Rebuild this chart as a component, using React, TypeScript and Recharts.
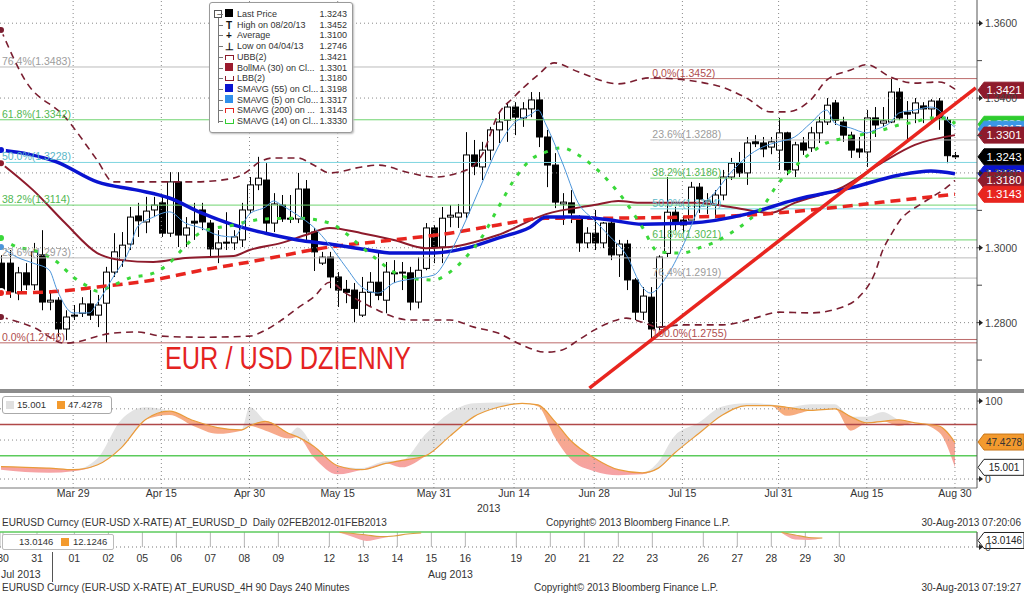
import React from "react";
import {
  ComposedChart,
  Bar,
  Line,
  Area,
  XAxis,
  YAxis,
  ReferenceLine,
  ReferenceDot,
  CartesianGrid,
} from "recharts";

const FONT = "'Liberation Sans', Arial, sans-serif";

// trading days: i = 0 is Mon 18-Mar-2013, i = 119 is Fri 30-Aug-2013
const X_DOMAIN: [number, number] = [-0.125, 121.75];
const tickIdx = [9, 20, 31, 42, 54, 64, 74, 85, 97, 108, 119];
const tickLabels = ["Mar 29", "Apr 15", "Apr 30", "May 15", "May 31", "Jun 14", "Jun 28", "Jul 15", "Jul 31", "Aug 15", "Aug 30"];

const opens = [
  1.2959, 1.2959, 1.2879, 1.2933, 1.2901, 1.2981, 1.2855, 1.286, 1.2783, 1.2818,
  1.2825, 1.285, 1.282, 1.2852, 1.2935, 1.2967, 1.301, 1.3085, 1.3069, 1.3101,
  1.312, 1.3039, 1.3176, 1.3034, 1.3071, 1.3101, 1.3066, 1.2997, 1.3015, 1.3013,
  1.3021, 1.3101, 1.3168, 1.3181, 1.3066, 1.3114, 1.3079, 1.3077, 1.3157, 1.3042,
  1.2959, 1.2975, 1.2922, 1.2889, 1.2887, 1.282, 1.2881, 1.2908, 1.286, 1.2932,
  1.2933, 1.2933, 1.2855, 1.2945, 1.3053, 1.3002, 1.3082, 1.3082, 1.3093, 1.3248,
  1.3216, 1.3261, 1.3315, 1.3341, 1.3376, 1.3347, 1.3371, 1.3395, 1.3296, 1.3221,
  1.3117, 1.312, 1.3077, 1.3013, 1.3039, 1.3013, 1.3066, 1.2981, 1.301, 1.2914,
  1.2828, 1.2868, 1.2788, 1.2985, 1.3095, 1.3074, 1.3074, 1.3162, 1.3117, 1.3114,
  1.3141, 1.3189, 1.3226, 1.32, 1.3283, 1.328, 1.3269, 1.3261, 1.3307, 1.3208,
  1.328, 1.3267, 1.3307, 1.3336, 1.3387, 1.3336, 1.3301, 1.3264, 1.3256, 1.3347,
  1.3333, 1.3336, 1.3416, 1.3362, 1.336, 1.3379, 1.3371, 1.3392, 1.3341, 1.3246,
];
const highs = [
  1.298, 1.2994, 1.2949, 1.2959, 1.3013, 1.3047, 1.2887, 1.2868, 1.2833, 1.2847,
  1.2868, 1.2887, 1.2874, 1.2949, 1.3039, 1.3042, 1.3109, 1.312, 1.3136, 1.3136,
  1.3136, 1.3202, 1.3202, 1.3082, 1.312, 1.312, 1.3074, 1.3047, 1.3095, 1.3047,
  1.312, 1.3189, 1.3243, 1.3226, 1.3146, 1.3141, 1.3141, 1.32, 1.3181, 1.3053,
  1.2989, 1.2989, 1.2935, 1.2914, 1.2906, 1.2922, 1.2935, 1.2994, 1.2962, 1.2967,
  1.2962, 1.2949, 1.2975, 1.3066, 1.3061, 1.3109, 1.3114, 1.3117, 1.3309, 1.3288,
  1.3283, 1.3323, 1.3363, 1.3389, 1.3389, 1.3389, 1.3416, 1.3416, 1.3315, 1.3253,
  1.3146, 1.3154, 1.3087, 1.3055, 1.3101, 1.3069, 1.3074, 1.3021, 1.3021, 1.2919,
  1.2895, 1.2895, 1.298, 1.3189, 1.3109, 1.3085, 1.3176, 1.3173, 1.3146, 1.3154,
  1.3208, 1.324, 1.3256, 1.3296, 1.3301, 1.3296, 1.3296, 1.3347, 1.331, 1.3283,
  1.3296, 1.3323, 1.335, 1.34, 1.3395, 1.335, 1.331, 1.3296, 1.3368, 1.3376,
  1.3376, 1.3452, 1.3427, 1.3392, 1.34, 1.3389, 1.3397, 1.34, 1.335, 1.3256,
];
const lows = [
  1.2874, 1.2866, 1.286, 1.2887, 1.2887, 1.2833, 1.2833, 1.2762, 1.2753, 1.2807,
  1.2815, 1.2807, 1.2788, 1.2746, 1.2922, 1.2949, 1.2994, 1.3029, 1.3039, 1.3082,
  1.3029, 1.3029, 1.3002, 1.3002, 1.3021, 1.3047, 1.2975, 1.2959, 1.2994, 1.2994,
  1.3002, 1.3093, 1.3154, 1.3042, 1.3042, 1.3069, 1.3066, 1.3066, 1.3021, 1.2938,
  1.2954, 1.2892, 1.2842, 1.2852, 1.2801, 1.2815, 1.2842, 1.286, 1.2825, 1.2906,
  1.2887, 1.2833, 1.2838, 1.294, 1.2959, 1.2959, 1.3055, 1.3053, 1.3079, 1.3194,
  1.3181, 1.3234, 1.328, 1.3283, 1.3301, 1.3323, 1.3349, 1.3269, 1.3162, 1.3106,
  1.3061, 1.3066, 1.2989, 1.2999, 1.2994, 1.2999, 1.2967, 1.2922, 1.2887, 1.2807,
  1.2807, 1.2755, 1.278, 1.2975, 1.3047, 1.304, 1.3074, 1.3093, 1.309, 1.3079,
  1.3127, 1.3181, 1.3189, 1.3168, 1.3269, 1.3242, 1.325, 1.3208, 1.3194, 1.3189,
  1.3248, 1.3256, 1.328, 1.3328, 1.3328, 1.3283, 1.324, 1.324, 1.3216, 1.3296,
  1.3323, 1.3333, 1.3341, 1.329, 1.3333, 1.3333, 1.3333, 1.3315, 1.3226, 1.3237,
];
const closes = [
  1.2887, 1.2882, 1.2933, 1.2901, 1.2989, 1.2855, 1.286, 1.2783, 1.2815, 1.282,
  1.285, 1.282, 1.2847, 1.2935, 1.2989, 1.3007, 1.3082, 1.3072, 1.3098, 1.3114,
  1.3039, 1.3176, 1.3034, 1.3053, 1.3066, 1.3069, 1.2997, 1.3013, 1.3013, 1.3029,
  1.3101, 1.3168, 1.3186, 1.3066, 1.3117, 1.3077, 1.3077, 1.3157, 1.3042, 1.2989,
  1.2975, 1.2922, 1.2887, 1.2881, 1.2838, 1.2881, 1.2908, 1.2873, 1.2935, 1.2933,
  1.2935, 1.2855, 1.294, 1.3053, 1.3002, 1.3079, 1.3087, 1.3093, 1.3248, 1.3218,
  1.3261, 1.3315, 1.3336, 1.3376, 1.3349, 1.3371, 1.3395, 1.3296, 1.3221, 1.3122,
  1.3122, 1.3093, 1.3013, 1.3039, 1.3013, 1.3066, 1.2981, 1.301, 1.2914, 1.2828,
  1.2871, 1.2783, 1.2975, 1.3095, 1.3066, 1.3061, 1.3162, 1.313, 1.3125, 1.3141,
  1.3189, 1.3226, 1.32, 1.328, 1.3278, 1.3264, 1.3283, 1.3307, 1.3208, 1.3275,
  1.3261, 1.3307, 1.3336, 1.3381, 1.3341, 1.3301, 1.3261, 1.3256, 1.3347, 1.3328,
  1.3339, 1.3416, 1.3347, 1.3357, 1.3387, 1.3371, 1.3392, 1.3347, 1.3246, 1.3243,
];

// overlay studies at the listed days
const sma5Idx = [0, 2, 4, 6, 7, 9, 11, 12, 14, 16, 17, 19, 21, 23, 25, 27, 29, 31, 33, 34, 35, 37, 39, 41, 43, 45, 47, 49, 51, 54, 56, 58, 60, 62, 64, 66, 67, 68, 70, 72, 74, 76, 78, 80, 81, 83, 85, 87, 89, 91, 93, 95, 97, 99, 101, 103, 104, 106, 108, 109, 111, 112, 114, 116, 117, 118, 119];
const sma5 = [1.3002, 1.2975, 1.2959, 1.2941, 1.2887, 1.2826, 1.2826, 1.2852, 1.2922, 1.2994, 1.3055, 1.3082, 1.3096, 1.3066, 1.3053, 1.3034, 1.3029, 1.309, 1.3109, 1.3125, 1.3114, 1.3087, 1.3055, 1.3007, 1.2949, 1.2895, 1.2879, 1.2906, 1.2916, 1.2927, 1.2986, 1.3074, 1.3173, 1.3269, 1.3333, 1.3355, 1.3368, 1.3328, 1.3229, 1.312, 1.3074, 1.3029, 1.2981, 1.2895, 1.2879, 1.2922, 1.3002, 1.3101, 1.3146, 1.32, 1.3242, 1.3269, 1.3283, 1.3296, 1.3333, 1.3368, 1.3333, 1.332, 1.3307, 1.3315, 1.3336, 1.336, 1.3368, 1.3376, 1.3368, 1.3341, 1.3322];

const sma14Idx = [0, 2, 4, 7, 9, 11, 12, 14, 16, 19, 21, 23, 25, 29, 31, 33, 37, 41, 43, 45, 47, 49, 51, 54, 56, 58, 60, 62, 64, 66, 68, 70, 72, 74, 76, 78, 80, 82, 85, 87, 89, 91, 93, 95, 97, 99, 101, 103, 106, 110, 112, 114, 116, 118, 119];
const sma14 = [1.3026, 1.3002, 1.2994, 1.2962, 1.2922, 1.2895, 1.2884, 1.29, 1.2919, 1.2932, 1.2959, 1.3005, 1.3042, 1.3061, 1.3071, 1.3077, 1.3079, 1.3066, 1.3039, 1.3002, 1.2967, 1.2935, 1.2919, 1.2914, 1.2935, 1.2975, 1.3029, 1.3106, 1.3181, 1.3234, 1.3256, 1.3267, 1.3248, 1.3216, 1.3173, 1.312, 1.3055, 1.2989, 1.2986, 1.2999, 1.3015, 1.3039, 1.3069, 1.3109, 1.3173, 1.3216, 1.3253, 1.328, 1.3296, 1.3315, 1.3328, 1.3336, 1.3347, 1.3347, 1.3331];

const sma55Idx = [0, 7, 12, 17, 21, 25, 29, 33, 37, 41, 45, 49, 54, 58, 62, 66, 68, 72, 76, 80, 86, 93, 99, 106, 112, 116, 119];
const sma55 = [1.3261, 1.3229, 1.3176, 1.3154, 1.3133, 1.3093, 1.3061, 1.3039, 1.3021, 1.301, 1.2997, 1.2986, 1.2986, 1.2999, 1.3026, 1.3055, 1.3082, 1.3082, 1.3074, 1.3063, 1.3066, 1.309, 1.3128, 1.316, 1.3194, 1.3205, 1.3198];

const sma200Idx = [0, 6, 12, 19, 25, 31, 41, 49, 56, 62, 68, 74, 85, 93, 101, 110, 119];
const sma200 = [1.2879, 1.2882, 1.2895, 1.2914, 1.294, 1.2962, 1.3002, 1.3021, 1.3039, 1.3061, 1.3079, 1.3079, 1.3082, 1.3087, 1.3101, 1.3122, 1.3143];

const bollIdx = [0, 4, 8, 12, 15, 19, 23, 29, 31, 35, 38, 41, 45, 49, 53, 56, 59, 62, 68, 74, 77, 80, 87, 91, 96, 99, 105, 110, 114, 119];
const bollMa = [1.3226, 1.3154, 1.3066, 1.2986, 1.2967, 1.2962, 1.2973, 1.2978, 1.2994, 1.3013, 1.3034, 1.3053, 1.3039, 1.3021, 1.2999, 1.3002, 1.3015, 1.3034, 1.309, 1.3114, 1.3125, 1.312, 1.312, 1.3109, 1.3093, 1.312, 1.3162, 1.3229, 1.3275, 1.3301];

const ubbIdx = [0, 3, 8, 12, 14, 20, 24, 29, 31, 32, 34, 37, 39, 41, 45, 47, 51, 54, 57, 59, 60, 62, 64, 67, 69, 72, 77, 81, 89, 93, 96, 98, 101, 103, 106, 108, 111, 114, 117, 119];
const ubb = [1.3582, 1.3448, 1.3349, 1.3234, 1.3176, 1.3176, 1.3176, 1.3186, 1.3208, 1.3226, 1.324, 1.324, 1.3221, 1.32, 1.3216, 1.3221, 1.32, 1.3189, 1.32, 1.3221, 1.3248, 1.3355, 1.3403, 1.3462, 1.3494, 1.347, 1.3438, 1.3454, 1.3435, 1.34, 1.3363, 1.3363, 1.3395, 1.3448, 1.3475, 1.3489, 1.3456, 1.344, 1.3443, 1.3424];

const lbbIdx = [0, 4, 8, 14, 17, 20, 25, 31, 33, 35, 37, 39, 41, 43, 45, 47, 51, 56, 59, 62, 65, 68, 70, 72, 74, 76, 78, 80, 82, 85, 90, 94, 97, 101, 105, 107, 109, 110, 111, 112, 115, 118, 119];
const lbb = [1.2815, 1.2788, 1.2745, 1.2772, 1.2775, 1.2764, 1.2761, 1.2764, 1.278, 1.2807, 1.2839, 1.2868, 1.2908, 1.2879, 1.2855, 1.2833, 1.2807, 1.2807, 1.2788, 1.2772, 1.274, 1.2721, 1.2727, 1.2753, 1.278, 1.2801, 1.2812, 1.2801, 1.2788, 1.2794, 1.2794, 1.2812, 1.2828, 1.2826, 1.2842, 1.2868, 1.2932, 1.2994, 1.3034, 1.3069, 1.312, 1.3162, 1.318];

// fibonacci retracements
const leftFibPct = ["76.4%", "61.8%", "50.0%", "38.2%", "23.6%", "0.0%"];
const leftFibVal = [1.3483, 1.3342, 1.3228, 1.3114, 1.2973, 1.2746];
const rightFibPct = ["0.0%", "23.6%", "38.2%", "50.0%", "61.8%", "76.4%", "100.0%"];
const rightFibVal = [1.3452, 1.3288, 1.3186, 1.3104, 1.3021, 1.2919, 1.2755];
const rightFibStart = 81;

// hand drawn trend line (day, price)
const trendIdx = [73.4, 121.6];
const trendPx = [1.2625, 1.3427];

const priceTicks = [1.27, 1.28, 1.29, 1.3, 1.31, 1.32, 1.33, 1.34, 1.35, 1.36];
const priceGrid = [1.28, 1.3, 1.32, 1.34, 1.36];

const legendNames = ["Last Price", "High on 08/20/13", "Average", "Low on 04/04/13", "UBB(2)", "BollMA (30) on Cl...", "LBB(2)", "SMAVG (55) on Cl...", "SMAVG (5) on Clo...", "SMAVG (200) on ...", "SMAVG (14) on Cl..."];
const legendValues = ["1.3243", "1.3452", "1.3100", "1.2746", "1.3421", "1.3301", "1.3180", "1.3198", "1.3317", "1.3143", "1.3330"];

// slow stochastic panel
const stochIdx = [0, 3, 6, 9, 12, 15, 18, 21, 24, 27, 30, 31, 33, 36, 37, 39, 42, 45, 48, 50, 53, 56, 59, 62, 65, 67, 69, 71, 74, 77, 80, 82, 84, 87, 90, 93, 96, 98, 101, 104, 106, 108, 110, 112, 114, 117, 119];
const stochD = [16, 15, 14, 12, 18, 40, 76, 87, 75, 66, 63, 68, 74, 58, 54, 42, 17, 12, 20, 24, 30, 55, 80, 92, 97, 95, 75, 50, 27, 12, 8, 14, 33, 58, 82, 94, 94, 92, 88, 90, 80, 72, 74, 76, 72, 68, 47];
const stochK = [12, 9, 8, 10, 26, 76, 92, 82, 68, 58, 62, 92, 62, 52, 66, 28, 6, 14, 23, 15, 58, 85, 97, 98, 97, 93, 55, 26, 10, 5, 6, 22, 55, 72, 93, 97, 96, 81, 96, 96, 62, 80, 86, 68, 72, 60, 15];

// 4H strip underneath (sessions, weekends count 1.5)
const stripDays = ["30", "31", "01", "02", "05", "06", "07", "08", "09", "12", "13", "14", "15", "16", "19", "20", "21", "22", "23", "26", "27", "28", "29", "30"];
const stripPos = [0, 1, 2.1, 3.1, 4.1, 5.1, 6.1, 7.1, 8.1, 9.6, 10.6, 11.6, 12.6, 13.6, 15.1, 16.1, 17.1, 18.1, 19.1, 20.6, 21.6, 22.6, 23.6, 24.6];
const stripSeriesPos = [9.9, 10.3, 10.7, 11.1, 11.5, 11.9, 12.3, 13.0, 22.9, 23.3, 23.7, 24.1];
const stripD = [29, 27, 24, 21, 22, 26, 28, null, 29, 24, 19, 18];
const stripK = [29, 20, 12, 17, 24, 27, 29, null, 29, 15, 14, 18];

const byIdx = (idx: number[], vals: number[]) => {
  const m = new Map<number, number>();
  idx.forEach((k, j) => m.set(k, vals[j]));
  return m;
};
const mS5 = byIdx(sma5Idx, sma5);
const mS14 = byIdx(sma14Idx, sma14);
const mS55 = byIdx(sma55Idx, sma55);
const mS200 = byIdx(sma200Idx, sma200);
const mBoll = byIdx(bollIdx, bollMa);
const mUbb = byIdx(ubbIdx, ubb);
const mLbb = byIdx(lbbIdx, lbb);

const priceData = closes.map((c, i) => ({
  i,
  o: opens[i],
  h: highs[i],
  l: lows[i],
  c,
  range: [lows[i], highs[i]],
  s5: mS5.get(i) ?? null,
  s14: mS14.get(i) ?? null,
  s55: mS55.get(i) ?? null,
  s200: mS200.get(i) ?? null,
  boll: mBoll.get(i) ?? null,
  ubb: mUbb.get(i) ?? null,
  lbb: mLbb.get(i) ?? null,
}));

const stochData = stochIdx.map((i, j) => {
  const k = stochK[j];
  const d = stochD[j];
  return { i, k, d, up: [d, Math.max(k, d)], dn: [Math.min(k, d), d] };
});

const stripData = stripSeriesPos.map((p, j) => {
  const k = stripK[j];
  const d = stripD[j];
  if (k == null || d == null) return { p, d: null, dn: null };
  return { p, d, dn: [Math.min(k, d), d] };
});

const fibColors = (pct: string) => {
  if (pct === "0.0%" || pct === "100.0%") return { line: "#BC6A6A", text: "#B04E4E" };
  if (pct === "50.0%") return { line: "#7ED5E0", text: "#5BB7C8" };
  if (pct === "38.2%" || pct === "61.8%") return { line: "#6FD46F", text: "#52B852" };
  return { line: "#BBBBBB", text: "#9C9C9C" };
};

const Candle = (props: any) => {
  const { x, y, width, height, payload } = props;
  if (!payload || height == null || isNaN(y)) return null;
  const { o, c, h, l } = payload;
  const cx = Math.round(x + width / 2) + 0.5;
  const py = (v: number) => y + ((h - v) / (h - l || 1)) * height;
  const top = py(Math.max(o, c));
  const bot = py(Math.min(o, c));
  const up = c >= o;
  return (
    <g>
      <line x1={cx} x2={cx} y1={y} y2={y + height} stroke="#000" strokeWidth={1} />
      <rect
        x={cx - 3}
        y={top}
        width={6}
        height={Math.max(1, bot - top)}
        fill={up ? "#fff" : "#000"}
        stroke="#000"
        strokeWidth={1}
      />
    </g>
  );
};

const AxisTick = (digits: number) => (props: any) => {
  const { x, y, payload } = props;
  const v = payload.value;
  const major = digits === 4 ? Math.round(v * 100) % 2 === 0 : true;
  if (!major) return <line x1={x} x2={x + 5} y1={y} y2={y} stroke="#444" />;
  return (
    <g>
      <line x1={x} x2={x + 3} y1={y} y2={y} stroke="#444" />
      <polygon points={`${x + 2},${y - 3} ${x + 6},${y} ${x + 2},${y + 3}`} fill="#222" />
      <text x={x + 8} y={y + 4} fontSize={10.5} fill="#444">
        {digits ? v.toFixed(digits) : String(v)}
      </text>
    </g>
  );
};

const badge = (bg: string, fg: string, text: string, border?: string, size = 11.5) => (p: any) => {
  const { cx, cy } = p;
  const x = cx + 1;
  return (
    <g>
      <polygon
        points={`${x},${cy} ${x + 6},${cy - 8} ${x + 46},${cy - 8} ${x + 46},${cy + 8} ${x + 6},${cy + 8}`}
        fill={bg}
        stroke={border ?? bg}
      />
      <text x={x + 26} y={cy + 4} textAnchor="middle" fill={fg} fontSize={size}>
        {text}
      </text>
    </g>
  );
};

const LegendIcon = ({ j }: { j: number }) => {
  const sq = (c: string) => <span style={{ display: "inline-block", width: 8, height: 8, background: c }} />;
  const br = (c: string, top: boolean) => (
    <span
      style={{
        display: "inline-block",
        width: 7,
        height: 4,
        border: `1px solid ${c}`,
        borderBottom: top ? "none" : `1px solid ${c}`,
        borderTop: top ? `1px solid ${c}` : "none",
        marginTop: top ? 2 : 0,
      }}
    />
  );
  const glyph = (g: string) => <span style={{ fontSize: 10, fontWeight: 700, color: "#111" }}>{g}</span>;
  const list = [
    sq("#000"), glyph("T"), glyph("+"), glyph("⊥"), br("#8B1A2B", true), sq("#9B1B2E"),
    br("#8B1A2B", false), sq("#0A14D0"), sq("#2F8FEA"), br("#E8251F", true), br("#33CC33", false),
  ];
  return list[j];
};

export default function App() {
  const priceBadges = [
    { v: 1.333, bg: "#2ECC2E", fg: "#fff", t: "1.3330" },
    { v: 1.3317, bg: "#3C96E8", fg: "#fff", t: "1.3317" },
    { v: 1.3301, bg: "#8E1B2C", fg: "#fff", t: "1.3301" },
    { v: 1.3421, bg: "#8E1B2C", fg: "#fff", t: "1.3421" },
    { v: 1.3198, bg: "#0A14D0", fg: "#fff", t: "1.3198" },
    { v: 1.318, bg: "#8E1B2C", fg: "#fff", t: "1.3180" },
    { v: 1.3143, bg: "#E8251F", fg: "#fff", t: "1.3143" },
    { v: 1.3243, bg: "#000", fg: "#fff", t: "1.3243" },
  ];

  return (
    <div
      style={{
        position: "absolute",
        left: 0,
        top: 0,
        width: 1024,
        height: 595,
        background: "#fff",
        overflow: "hidden",
        fontFamily: FONT,
        color: "#333",
      }}
    >
      {/* price panel */}
      <div style={{ position: "absolute", left: 0, top: 0 }}>
        <ComposedChart width={1024} height={390} data={priceData} margin={{ top: 0, right: 0, bottom: 0, left: 0 }}>
          <XAxis type="number" dataKey="i" domain={X_DOMAIN} hide allowDataOverflow />
          <YAxis
            orientation="right"
            width={47}
            domain={[1.262, 1.3662]}
            ticks={priceTicks}
            interval={0}
            allowDataOverflow
            axisLine={{ stroke: "#555" }}
            tickLine={false}
            tickSize={0}
            tickMargin={0}
            tick={AxisTick(4)}
          />
          {priceGrid.map((v) => (
            <ReferenceLine key={"h" + v} y={v} stroke="#8a8a8a" strokeDasharray="1 3" />
          ))}
          {tickIdx.map((i) => (
            <ReferenceLine key={"v" + i} x={i} stroke="#8a8a8a" strokeDasharray="1 3" />
          ))}
          {leftFibVal.map((v, j) => (
            <ReferenceLine
              key={"lf" + j}
              y={v}
              stroke={fibColors(leftFibPct[j]).line}
              label={{
                value: `${leftFibPct[j]}(${v.toFixed(4)})`,
                position: "insideBottomLeft",
                offset: 2,
                fill: fibColors(leftFibPct[j]).text,
                fontSize: 10.5,
              }}
            />
          ))}
          {rightFibVal.map((v, j) => (
            <ReferenceLine
              key={"rf" + j}
              segment={[
                { x: rightFibStart, y: v },
                { x: X_DOMAIN[1], y: v },
              ]}
              stroke={fibColors(rightFibPct[j]).line}
              label={{
                value: `${rightFibPct[j]}(${v.toFixed(4)})`,
                position: "insideBottomLeft",
                offset: 2,
                fill: fibColors(rightFibPct[j]).text,
                fontSize: 10.5,
              }}
            />
          ))}
          <Line dataKey="ubb" type="monotone" connectNulls dot={false} stroke="#7A1E30" strokeWidth={1.6} strokeDasharray="7 5" isAnimationActive={false} />
          <Line dataKey="lbb" type="monotone" connectNulls dot={false} stroke="#7A1E30" strokeWidth={1.6} strokeDasharray="7 5" isAnimationActive={false} />
          <Bar dataKey="range" barSize={7} shape={(p: any) => <Candle {...p} />} isAnimationActive={false} />
          <Line dataKey="boll" type="monotone" connectNulls dot={false} stroke="#8E1B2C" strokeWidth={2} isAnimationActive={false} />
          <Line dataKey="s200" type="monotone" connectNulls dot={false} stroke="#E8251F" strokeWidth={3.5} strokeDasharray="10 6" isAnimationActive={false} />
          <Line dataKey="s55" type="monotone" connectNulls dot={false} stroke="#0A14D0" strokeWidth={3.5} isAnimationActive={false} />
          <Line dataKey="s14" type="monotone" connectNulls dot={false} stroke="#3AD83A" strokeWidth={3} strokeDasharray="4 8" isAnimationActive={false} />
          <Line dataKey="s5" type="monotone" connectNulls dot={false} stroke="#4C95DA" strokeWidth={1} isAnimationActive={false} />
          <ReferenceLine
            segment={[
              { x: trendIdx[0], y: trendPx[0] },
              { x: trendIdx[1], y: trendPx[1] },
            ]}
            stroke="#E8251F"
            strokeWidth={3.5}
          />
          {priceBadges.map((b) => (
            <ReferenceDot key={b.t} x={X_DOMAIN[1]} y={b.v} ifOverflow="visible" shape={badge(b.bg, b.fg, b.t)} />
          ))}
        </ComposedChart>
      </div>

      {/* legend */}
      <div
        style={{
          position: "absolute",
          left: 209,
          top: 2,
          width: 142,
          height: 129,
          border: "1px solid #9a9a9a",
          borderRadius: 3,
          background: "#fff",
          boxShadow: "1px 1px 2px #bbb",
          fontSize: 9,
        }}
      >
        <div style={{ position: "absolute", left: 4, top: 7, width: 6, height: 6, border: "1px solid #555", fontSize: 8, lineHeight: "6px", textAlign: "center" }}>-</div>
        <div style={{ position: "absolute", left: 8, top: 15, width: 1, height: 105, background: "#777" }} />
        {legendNames.map((n, j) => (
          <div key={n} style={{ position: "absolute", left: 0, top: 6 + j * 10.7, width: 142, height: 11, lineHeight: "11px" }}>
            <div style={{ position: "absolute", left: 8, top: 5, width: 5, height: 1, background: "#777" }} />
            <div style={{ position: "absolute", left: 14, top: 0, width: 10, textAlign: "center" }}>
              <LegendIcon j={j} />
            </div>
            <span style={{ position: "absolute", left: 27, color: "#333" }}>{n}</span>
            <span style={{ position: "absolute", right: 5, color: "#333" }}>{legendValues[j]}</span>
          </div>
        ))}
      </div>

      <div
        style={{
          position: "absolute",
          left: 165,
          top: 342,
          fontSize: 32,
          lineHeight: 1,
          color: "#E4231F",
          transform: "scaleX(0.79)",
          transformOrigin: "left top",
          whiteSpace: "nowrap",
        }}
      >
        EUR / USD DZIENNY
      </div>

      {/* panel separator */}
      <div style={{ position: "absolute", left: 0, top: 389, width: 1024, height: 4, background: "#8c8c8c" }} />

      {/* stochastic panel */}
      <div style={{ position: "absolute", left: 0, top: 393 }}>
        <ComposedChart width={1024} height={111} data={stochData} margin={{ top: 0, right: 0, bottom: 0, left: 0 }}>
          <defs>
            <linearGradient id="dnFill" x1="0" y1="0" x2="0" y2="1">
              <stop offset="0" stopColor="#F7AE78" />
              <stop offset="1" stopColor="#F6A2A6" />
            </linearGradient>
          </defs>
          <XAxis
            type="number"
            dataKey="i"
            domain={X_DOMAIN}
            allowDataOverflow
            ticks={tickIdx}
            interval={0}
            tickFormatter={(v: number) => tickLabels[tickIdx.indexOf(v)] ?? ""}
            height={16}
            tickSize={1}
            tickMargin={1}
            tickLine={false}
            axisLine={{ stroke: "#777" }}
            tick={{ fill: "#333", fontSize: 10.5 }}
          />
          <YAxis
            orientation="right"
            width={47}
            domain={[-11.5, 110.3]}
            ticks={[0, 100]}
            interval={0}
            allowDataOverflow
            axisLine={{ stroke: "#555" }}
            tickLine={false}
            tickSize={0}
            tickMargin={0}
            tick={AxisTick(0)}
          />
          {tickIdx.map((i) => (
            <ReferenceLine key={"sv" + i} x={i} stroke="#8a8a8a" strokeDasharray="1 3" />
          ))}
          {[90, 50, 0].map((v) => (
            <ReferenceLine key={"sh" + v} y={v} stroke="#8a8a8a" strokeDasharray="1 3" />
          ))}
          <ReferenceLine y={70} stroke="#B04848" strokeWidth={1.5} />
          <ReferenceLine y={30} stroke="#5CCB5C" strokeWidth={1.5} />
          <Area dataKey="up" type="monotone" stroke="none" fill="#E3E3E3" fillOpacity={1} isAnimationActive={false} />
          <Area dataKey="dn" type="monotone" stroke="none" fill="url(#dnFill)" fillOpacity={1} isAnimationActive={false} />
          <Line dataKey="d" type="monotone" dot={false} stroke="#E99B3A" strokeWidth={1.2} isAnimationActive={false} />
          <ReferenceDot x={X_DOMAIN[1]} y={47.4278} ifOverflow="visible" shape={badge("#F39A2E", "#333", "47.4278", "#C8761A", 10)} />
          <ReferenceDot x={X_DOMAIN[1]} y={15.001} ifOverflow="visible" shape={badge("#fff", "#222", "15.001", "#222", 10)} />
        </ComposedChart>
      </div>

      <div
        style={{
          position: "absolute",
          left: 2,
          top: 396,
          width: 108,
          height: 16,
          border: "1px solid #aaa",
          borderRadius: 3,
          background: "#fff",
          fontSize: 9.5,
          lineHeight: "16px",
        }}
      >
        <span style={{ position: "absolute", left: 3, top: 4, width: 8, height: 8, background: "#e0e0e0" }} />
        <span style={{ position: "absolute", left: 14 }}>15.001</span>
        <span style={{ position: "absolute", left: 54, top: 4, width: 8, height: 8, background: "#F39A2E" }} />
        <span style={{ position: "absolute", left: 65 }}>47.4278</span>
      </div>

      <div style={{ position: "absolute", left: 477, top: 502, fontSize: 10.5 }}>2013</div>

      <div style={{ position: "absolute", left: 2, top: 517, fontSize: 10, whiteSpace: "nowrap" }}>
        EURUSD Curncy (EUR-USD X-RATE) AT_EURUSD_D&nbsp;&nbsp;Daily 02FEB2012-01FEB2013
      </div>
      <div style={{ position: "absolute", left: 546, top: 517, fontSize: 10, whiteSpace: "nowrap" }}>
        Copyright© 2013 Bloomberg Finance L.P.
      </div>
      <div style={{ position: "absolute", right: 3, top: 517, fontSize: 10, whiteSpace: "nowrap" }}>
        30-Aug-2013 07:20:06
      </div>

      {/* 4H strip */}
      <div style={{ position: "absolute", left: 0, top: 528 }}>
        <ComposedChart width={1024} height={44} data={stripData} margin={{ top: 4, right: 0, bottom: 0, left: 0 }}>
          <CartesianGrid horizontal={false} stroke="#b5b5b5" />
          <XAxis
            type="number"
            dataKey="p"
            domain={[-0.088, 28.65]}
            allowDataOverflow
            ticks={stripPos}
            interval={0}
            tickFormatter={(v: number) => stripDays[stripPos.indexOf(v)] ?? ""}
            height={25}
            tickSize={2}
            tickMargin={6}
            tickLine={false}
            axisLine={false}
            tick={{ fill: "#333", fontSize: 10.5 }}
          />
          <YAxis
            orientation="right"
            width={47}
            domain={[0, 30]}
            ticks={[0]}
            interval={0}
            allowDataOverflow
            axisLine={{ stroke: "#555" }}
            tickLine={false}
            tickSize={0}
            tickMargin={0}
            tick={AxisTick(0)}
          />
          <ReferenceLine y={30} stroke="#5CCB5C" strokeWidth={1.5} />
          <ReferenceLine y={0} stroke="#777" strokeDasharray="1 3" />
          <Area dataKey="dn" type="monotone" stroke="none" fill="#F6A8A8" fillOpacity={1} isAnimationActive={false} />
          <Line dataKey="d" type="monotone" dot={false} stroke="#D9A040" strokeWidth={1.2} isAnimationActive={false} />
          <ReferenceDot x={28.65} y={13.0146} ifOverflow="visible" shape={badge("#fff", "#222", "13.0146", "#222", 10)} />
        </ComposedChart>
      </div>
      <div
        style={{
          position: "absolute",
          left: 2,
          top: 534,
          width: 110,
          height: 14,
          border: "1px solid #bbb",
          borderRadius: 2,
          background: "#fff",
          fontSize: 9.5,
          lineHeight: "14px",
        }}
      >
        <span style={{ position: "absolute", left: 16 }}>13.0146</span>
        <span style={{ position: "absolute", left: 58, top: 3, width: 8, height: 8, background: "#F39A2E" }} />
        <span style={{ position: "absolute", left: 70 }}>12.1246</span>
      </div>
      <div style={{ position: "absolute", left: 52, top: 552, width: 1, height: 30, background: "#555" }} />
      <div style={{ position: "absolute", left: 1, top: 568, fontSize: 10.5 }}>Jul 2013</div>
      <div style={{ position: "absolute", left: 428, top: 568, fontSize: 10.5 }}>Aug 2013</div>

      <div style={{ position: "absolute", left: 2, top: 582, fontSize: 10, whiteSpace: "nowrap" }}>
        EURUSD Curncy (EUR-USD X-RATE) AT_EURUSD_4H 90 Days 240 Minutes
      </div>
      <div style={{ position: "absolute", left: 534, top: 582, fontSize: 10, whiteSpace: "nowrap" }}>
        Copyright© 2013 Bloomberg Finance L.P.
      </div>
      <div style={{ position: "absolute", right: 3, top: 582, fontSize: 10, whiteSpace: "nowrap" }}>
        30-Aug-2013 07:19:27
      </div>
    </div>
  );
}
